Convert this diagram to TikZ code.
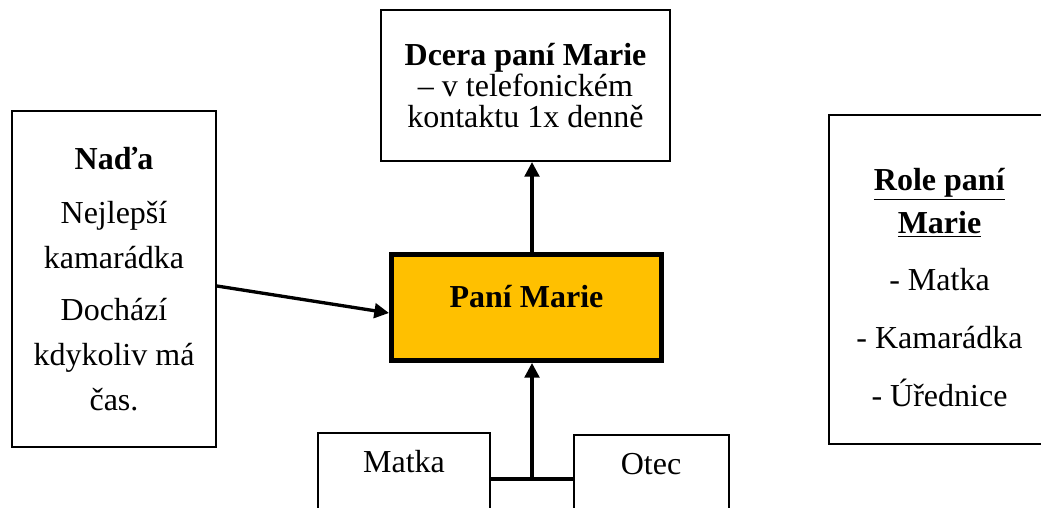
\documentclass[tikz,border=0pt]{standalone}
\usepackage{fontspec}
\setmainfont{Liberation Serif}
\usetikzlibrary{positioning, arrows.meta, calc}
\definecolor{gold}{HTML}{FFC000}

\begin{document}
\begin{tikzpicture}[
        x=0.75pt, y=-0.75pt,
        >={Triangle[length=11pt, width=11pt]},
        every node/.style={font=\fontsize{24}{33.75}\selectfont, align=center},
        box/.style={draw=black, line width=1.5pt, inner sep=0pt},
        mainbox/.style={draw=black, line width=3.75pt, fill=gold, inner sep=0pt},
        link/.style={line width=2.5pt},
    ]
    \useasboundingbox (0,0) rectangle (1041,507);
    \clip (0,0) rectangle (1041,507);

        % Draw the central person
        \node[mainbox, minimum width=202.5pt, minimum height=79.5pt,
              text height=16.5pt, text depth=16.5pt] (marie) at (526.5,307.5) {\textbf{Paní Marie}};

        % Draw the daughter above
        \node[box, minimum width=216.75pt, minimum height=113.25pt,
              font=\fontsize{24}{23}\selectfont] (dcera) at (525.5,85.5)
              {\textbf{Dcera paní Marie}\\ – v telefonickém\\ kontaktu 1x denně};

        % Draw the friend on the left
        \node[box, minimum width=153pt, minimum height=252pt] (nada) at (114,279)
              {\textbf{Naďa}\\[6.75pt] Nejlepší\\ kamarádka\\[5.25pt] Dochází\\ kdykoliv má\\ čas.};

        % Draw the roles on the right (cut off by the page edge)
        \node[box, minimum width=165.75pt, minimum height=246.75pt] (role) at (939.5,279.5)
              {\rule{0pt}{29pt}\underline{\textbf{Role paní}}\\[-1.5pt] \underline{\textbf{Marie}}\\[8.5pt]
               - Matka\\[10pt] - Kamarádka\\[10pt] - Úřednice};

        % Draw the parents below
        \foreach \name / \x / \y / \w / \txt in {matka/404/432/129pt/Matka, otec/651/434/116.25pt/Otec}
            \node[box, anchor=north, minimum width=\w, text height=29.5pt, text depth=70pt]
                  (\name) at (\x,\y) {\txt};

        % Connect the parents with the central person
        \coordinate (join) at (532,479);
        \draw[link] (join -| matka.east) -- (join -| otec.west);
        \draw[link, ->] (join) -- (join |- marie.south);

        % Connect the central person with the daughter and the friend
        \draw[link, ->] (join |- marie.north) -- (join |- dcera.south);
        \draw[link, ->] ($(nada.east)+(0,7)$) -- ($(marie.west)+(0,5.5)$);
    \end{tikzpicture}
\end{document}
